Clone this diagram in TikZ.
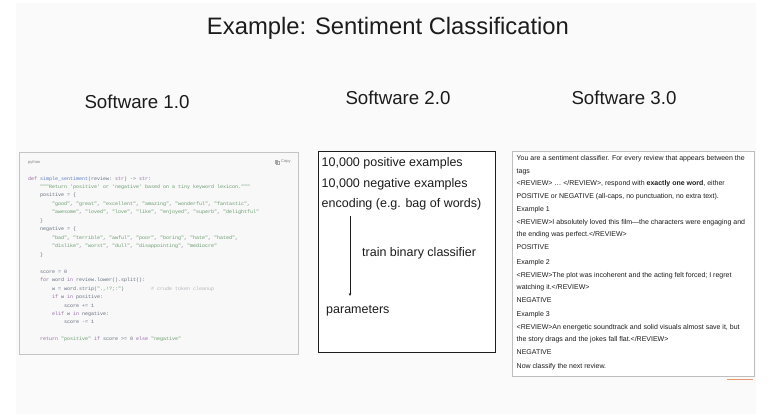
\documentclass[tikz,border=0pt]{standalone}
\usepackage{fontspec}
\setmainfont{Liberation Sans}
\setmonofont{Liberation Mono}
\usetikzlibrary{arrows.meta}
\definecolor{slidebg}{RGB}{250,250,250}
\definecolor{ink}{RGB}{28,28,28}
\definecolor{codebg}{RGB}{248,248,248}
\definecolor{codeborder}{RGB}{196,196,196}
\definecolor{promptborder}{RGB}{190,190,190}
\definecolor{cnorm}{RGB}{100,110,125}
\definecolor{ckw}{RGB}{150,105,165}
\definecolor{cfn}{RGB}{95,125,200}
\definecolor{cstr}{RGB}{105,155,110}
\definecolor{ccm}{RGB}{178,182,188}
\definecolor{accent}{RGB}{232,150,120}
\newcommand\codeline[3]{\node[codetxt] (code#1) at ({28+3*#2},{180+8.47*#1}) {#3};}
\newcommand\pline[3]{\node[ptxt] (p#1) at (516.5,#2) {#3};}
\newcommand\kw[1]{\textcolor{ckw}{#1}}
\newcommand\st[1]{\textcolor{cstr}{#1}}
\begin{document}
\begin{tikzpicture}[x=1pt,y=-1pt,
  title/.style={font=\fontsize{23.8}{28}\selectfont, text=ink, inner sep=0pt},
  swlabel/.style={font=\fontsize{18.7}{22}\selectfont, text=ink, inner sep=0pt},
  codetxt/.style={anchor=base west, inner sep=0pt, font=\ttfamily\fontsize{5}{6}\selectfont, text=cnorm},
  smalllbl/.style={anchor=west, inner sep=0pt, font=\fontsize{4}{5}\selectfont, text=gray},
  boxtxt/.style={anchor=west, inner sep=0pt, font=\fontsize{12.5}{15}\selectfont, text=ink},
  ptxt/.style={anchor=west, inner sep=0pt, font=\fontsize{7}{8.4}\selectfont, text=ink},
  arr/.style={-{Stealth[length=3pt,width=2.6pt]}, line width=0.7pt, draw=ink}
]
\useasboundingbox (0,0) rectangle (782,416);
\fill[slidebg] (16,3) rectangle (756,414);

% titles
\node[title] (title) at (388,28) {Example: Sentiment Classification};
\node[swlabel] (sw1) at (137,102) {Software 1.0};
\node[swlabel] (sw2) at (398,98) {Software 2.0};
\node[swlabel] (sw3) at (624,98) {Software 3.0};

% Software 1.0 code box
\draw[draw=codeborder, fill=codebg, line width=0.8pt] (19,152) rectangle (298,354);
\node[smalllbl] (lang) at (28,162) {python};
\draw[draw=gray!70, line width=0.3pt] (275.2,160) rectangle (277.6,163.2);
\draw[draw=gray!70, line width=0.3pt] (276.4,161) rectangle (278.8,164.2);
\node[smalllbl] (copy) at (281,162) {Copy};
\codeline{0}{0}{\kw{def} \textcolor{cfn}{simple\_sentiment}(review: \kw{str}) -> \kw{str}:}
\codeline{1}{4}{\st{"""Return 'positive' or 'negative' based on a tiny keyword lexicon."""}}
\codeline{2}{4}{positive = \{}
\codeline{3}{8}{\st{"good"}, \st{"great"}, \st{"excellent"}, \st{"amazing"}, \st{"wonderful"}, \st{"fantastic"},}
\codeline{4}{8}{\st{"awesome"}, \st{"loved"}, \st{"love"}, \st{"like"}, \st{"enjoyed"}, \st{"superb"}, \st{"delightful"}}
\codeline{5}{4}{\}}
\codeline{6}{4}{negative = \{}
\codeline{7}{8}{\st{"bad"}, \st{"terrible"}, \st{"awful"}, \st{"poor"}, \st{"boring"}, \st{"hate"}, \st{"hated"},}
\codeline{8}{8}{\st{"dislike"}, \st{"worst"}, \st{"dull"}, \st{"disappointing"}, \st{"mediocre"}}
\codeline{9}{4}{\}}
\codeline{11}{4}{score = 0}
\codeline{12}{4}{\kw{for} word \kw{in} review.lower().split():}
\codeline{13}{8}{w = word.strip(\st{".,!?;:"})\hspace{27pt}\textcolor{ccm}{\# crude token cleanup}}
\codeline{14}{8}{\kw{if} w \kw{in} positive:}
\codeline{15}{12}{score += 1}
\codeline{16}{8}{\kw{elif} w \kw{in} negative:}
\codeline{17}{12}{score -= 1}
\codeline{19}{4}{\kw{return} \st{"positive"} \kw{if} score >= 0 \kw{else} \st{"negative"}}

% Software 2.0 box
\draw[draw=ink, fill=white, line width=0.8pt] (318,151) rectangle (495,352);
\node[boxtxt] (pos) at (321.5,163) {10,000 positive examples};
\node[boxtxt] (neg) at (321.5,184) {10,000 negative examples};
\node[boxtxt] (enc) at (321.5,204) {encoding (e.g. bag of words)};
\node[boxtxt] (train) at (362,253) {train binary classifier};
\node[boxtxt] (params) at (326,311) {parameters};
\coordinate (arrtop) at (350,216);
\coordinate (arrbot) at (350,296);
\draw[arr] (arrtop) -- (arrbot);

% Software 3.0 prompt box
\draw[draw=promptborder, fill=white, line width=0.8pt] (512,151) rectangle (754,376);
\pline{1}{159}{You are a sentiment classifier. For every review that appears between the}
\pline{2}{171.5}{tags}
\pline{3}{184}{<REVIEW> … </REVIEW>, respond with \textbf{exactly one word}, either}
\pline{4}{196.5}{POSITIVE or NEGATIVE (all-caps, no punctuation, no extra text).}
\pline{5}{210}{Example 1}
\pline{6}{222.5}{<REVIEW>I absolutely loved this film—the characters were engaging and}
\pline{7}{235}{the ending was perfect.</REVIEW>}
\pline{8}{247.5}{POSITIVE}
\pline{9}{263}{Example 2}
\pline{10}{275.5}{<REVIEW>The plot was incoherent and the acting felt forced; I regret}
\pline{11}{288}{watching it.</REVIEW>}
\pline{12}{300.5}{NEGATIVE}
\pline{13}{315}{Example 3}
\pline{14}{327.5}{<REVIEW>An energetic soundtrack and solid visuals almost save it, but}
\pline{15}{340}{the story drags and the jokes fall flat.</REVIEW>}
\pline{16}{352.5}{NEGATIVE}
\pline{17}{367}{Now classify the next review.}

% slide progress accent
\draw[draw=accent, line width=1.2pt] (727,379.5) -- (753,379.5);
\end{tikzpicture}
\end{document}
